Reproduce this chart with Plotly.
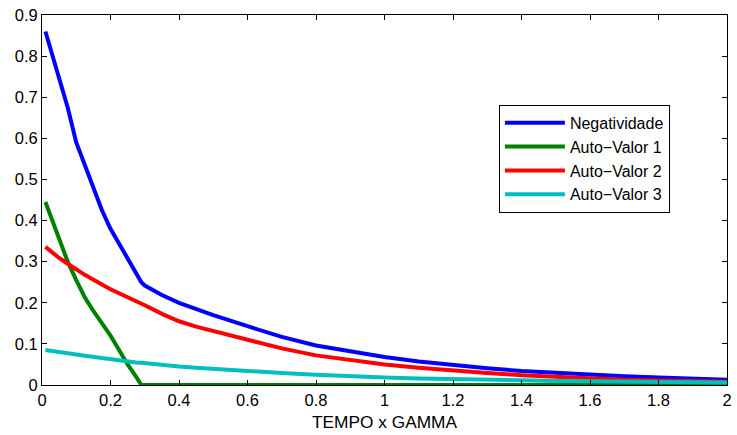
import plotly.graph_objects as go

# x grid (TEMPO x GAMMA)
x_vals = [0.01, 0.03, 0.05, 0.075, 0.10, 0.125, 0.15, 0.175, 0.20, 0.225, 0.25, 0.275, 0.29, 0.30,
          0.35, 0.40, 0.45, 0.50, 0.60, 0.70, 0.80, 0.90, 1.00, 1.10, 1.20, 1.30, 1.40,
          1.50, 1.60, 1.70, 1.80, 1.90, 2.00]

negatividade = [0.86, 0.805, 0.75, 0.675, 0.59, 0.535, 0.48, 0.425, 0.38, 0.343, 0.305, 0.268, 0.25, 0.242,
                0.219, 0.200, 0.184, 0.170, 0.143, 0.117, 0.096, 0.081, 0.068, 0.057, 0.048, 0.041, 0.034,
                0.029, 0.025, 0.021, 0.018, 0.015, 0.013]
auto_valor_1 = [0.445, 0.40, 0.355, 0.30, 0.255, 0.213, 0.18, 0.15, 0.12, 0.085, 0.05, 0.02, 0.0, 0.0,
                0.0, 0.0, 0.0, 0.0, 0.0, 0.0, 0.0, 0.0, 0.0, 0.0, 0.0, 0.0, 0.0,
                0.0, 0.0, 0.0, 0.0, 0.0, 0.0]
auto_valor_2 = [0.336, 0.322, 0.309, 0.295, 0.281, 0.268, 0.256, 0.244, 0.233, 0.223, 0.214, 0.204, 0.198, 0.194,
                0.173, 0.155, 0.142, 0.131, 0.109, 0.089, 0.072, 0.060, 0.050, 0.042, 0.035, 0.029, 0.024,
                0.020, 0.016, 0.013, 0.011, 0.009, 0.008]
auto_valor_3 = [0.085, 0.083, 0.080, 0.077, 0.074, 0.071, 0.068, 0.065, 0.062, 0.060, 0.057, 0.055, 0.054, 0.053,
                0.049, 0.045, 0.042, 0.039, 0.034, 0.029, 0.025, 0.021, 0.018, 0.016, 0.014, 0.012, 0.011,
                0.010, 0.009, 0.008, 0.007, 0.0065, 0.006]

names = ["Negatividade", "Auto\u2212Valor 1", "Auto\u2212Valor 2", "Auto\u2212Valor 3"]
colors = ["#0000ff", "#008000", "#ff0000", "#00bfbf"]
series = [negatividade, auto_valor_1, auto_valor_2, auto_valor_3]

x_ticks = [0, 0.2, 0.4, 0.6, 0.8, 1, 1.2, 1.4, 1.6, 1.8, 2]
x_ticktext = ["0", "0.2", "0.4", "0.6", "0.8", "1", "1.2", "1.4", "1.6", "1.8", "2"]
y_ticks = [0, 0.1, 0.2, 0.3, 0.4, 0.5, 0.6, 0.7, 0.8, 0.9]
y_ticktext = ["0", "0.1", "0.2", "0.3", "0.4", "0.5", "0.6", "0.7", "0.8", "0.9"]

fig = go.Figure()
for name, col, ys in zip(names, colors, series):
    fig.add_trace(go.Scatter(x=x_vals, y=ys, mode="lines", name=name,
                             line=dict(color=col, width=4)))

font = dict(family="Liberation Sans, Arial, sans-serif", size=16.5, color="black")
title_font = dict(family="Liberation Sans, Arial, sans-serif", size=17.3, color="black")
axis_common = dict(showline=True, linecolor="black", linewidth=1, mirror="ticks",
                   ticks="inside", ticklen=5, tickcolor="black", tickwidth=1,
                   showgrid=False, zeroline=False, tickfont=font,
                   ticklabeloverflow="allow")

fig.update_layout(
    width=737, height=435,
    margin=dict(l=42, r=5, t=15, b=50),
    paper_bgcolor="white", plot_bgcolor="white",
    font=font,
    xaxis=dict(range=[0, 2], tickvals=x_ticks, ticktext=x_ticktext,
               title=dict(text="TEMPO x GAMMA", font=title_font, standoff=8), **axis_common),
    yaxis=dict(range=[0, 0.9], tickvals=y_ticks, ticktext=y_ticktext, **axis_common),
    legend=dict(x=0.667, y=0.757, xanchor="left", yanchor="top",
                bordercolor="black", borderwidth=1, bgcolor="white",
                font=dict(family="Liberation Sans, Arial, sans-serif", size=16, color="black"),
                tracegroupgap=0, itemwidth=60),
    showlegend=True,
)

fig.write_html("out.html")
